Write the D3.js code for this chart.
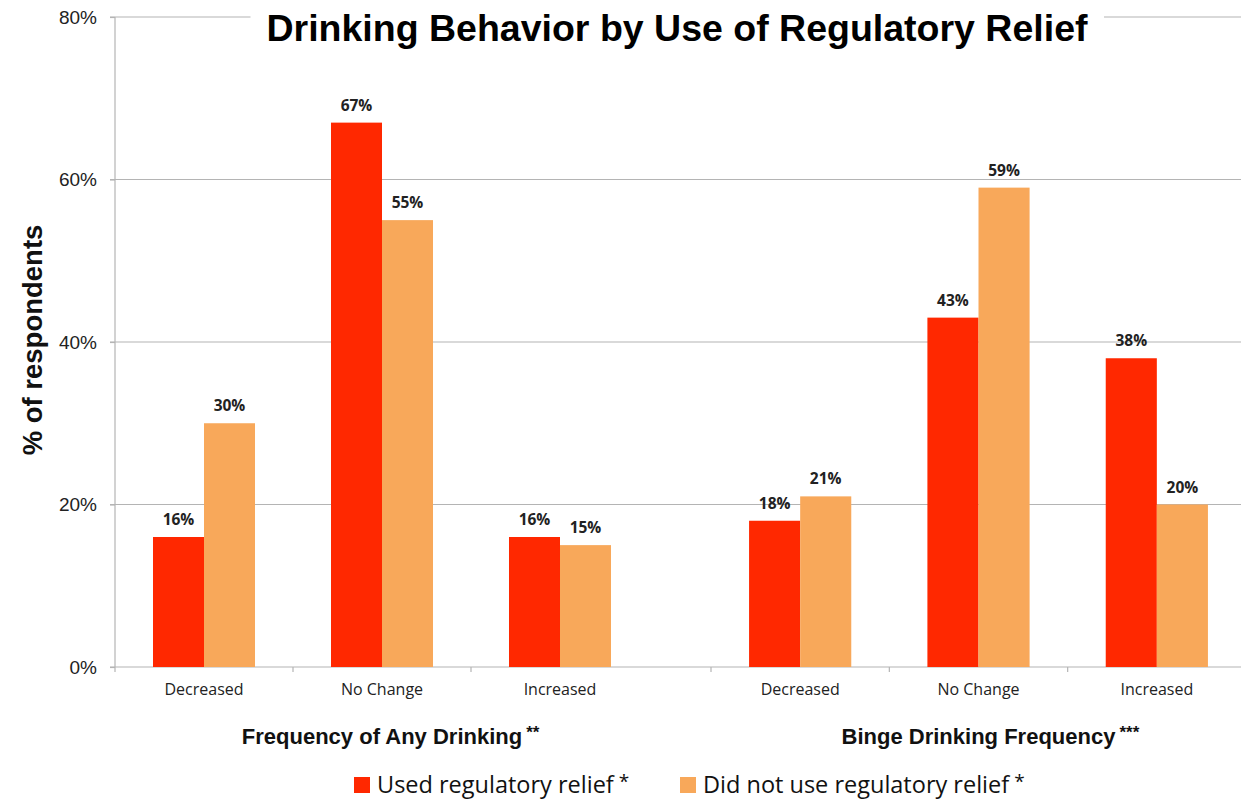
<!DOCTYPE html>
<html><head><meta charset="utf-8">
<script src="https://cdn.jsdelivr.net/npm/d3@7"></script>
<style>
body{margin:0;background:#fff;}
svg{display:block;}
</style></head>
<body>
<svg id="chart" width="1241" height="803"></svg>
<script>
const categories = ["Decreased", "No Change", "Increased"];
const groups = ["Frequency of Any Drinking", "Binge Drinking Frequency"];
const groupStars = ["**", "***"];
const seriesNames = ["Used regulatory relief", "Did not use regulatory relief"];
const usedRelief = [[16, 67, 16], [18, 43, 38]];
const notUsedRelief = [[30, 55, 15], [21, 59, 20]];
const yTicks = [0, 20, 40, 60, 80];
const colors = ["#FF2800", "#F8A85A"];

const svg = d3.select("#chart");
const W = 1241, H = 803;
const y = d3.scaleLinear().domain([0, 80]).range([667, 17]);

const groupX = d3.scaleOrdinal().domain(groups).range([[115, 649], [711, 1246]]);

// gridlines
svg.append("g").selectAll("line").data(yTicks.filter(d => d > 0)).join("line")
  .attr("x1", 110).attr("x2", W).attr("y1", d => y(d)).attr("y2", d => y(d))
  .attr("stroke", "#b4b4b4").attr("stroke-width", 1.2);

// title background + title
const titleBg = svg.append("rect").attr("fill", "#fff");
const title = svg.append("text").attr("x", 677).attr("y", 41).attr("text-anchor", "middle")
  .attr("font-family", "Liberation Sans, Arial, sans-serif").attr("font-weight", "bold")
  .attr("font-size", 37.5).attr("fill", "#000").text("Drinking Behavior by Use of Regulatory Relief");
const bb = title.node().getBBox();
titleBg.attr("x", bb.x - 16).attr("y", 0).attr("width", bb.width + 32).attr("height", 50);

// y axis
const yAxis = d3.axisLeft(y).tickValues(yTicks).tickFormat(d => d + "%").tickSize(5).tickPadding(13);
const yg = svg.append("g").attr("transform", "translate(115,0)").call(yAxis);
yg.select(".domain").attr("stroke", "#b4b4b4").attr("stroke-width", 1.2).attr("d", "M0,17V667");
yg.selectAll(".tick line").attr("stroke", "#b4b4b4").attr("stroke-width", 1.2);
yg.selectAll(".tick text").attr("font-family", "Liberation Sans, Arial, sans-serif")
  .attr("font-size", 19).attr("fill", "#222");

// baseline
svg.append("line").attr("x1", 110).attr("x2", W).attr("y1", y(0)).attr("y2", y(0))
  .attr("stroke", "#b4b4b4").attr("stroke-width", 1.2);

groups.forEach((g, gi) => {
  const x = d3.scaleBand().domain(categories).range(groupX(g)).paddingInner(0).paddingOuter(0);
  const xs = d3.scaleBand().domain([0, 1]).range([0, x.bandwidth()]).paddingInner(0).paddingOuter(0.745);
  const xa = d3.axisBottom(x).tickSize(0).tickPadding(17);
  const ga = svg.append("g").attr("transform", `translate(0,${y(0)})`).call(xa);
  ga.select(".domain").remove();
  ga.selectAll(".tick text").attr("font-family", "Open Sans, Noto Sans, sans-serif")
    .attr("font-size", 16).attr("fill", "#222");
  const bounds = categories.map(c => x(c));
  svg.append("g").selectAll("line").data(bounds).join("line")
    .attr("x1", d => d).attr("x2", d => d).attr("y1", y(0)).attr("y2", y(0) + 5)
    .attr("stroke", "#b4b4b4").attr("stroke-width", 1.2);

  const rows = categories.map((c, i) => ({c, vals: [usedRelief[gi][i], notUsedRelief[gi][i]]}));
  const cg = svg.append("g").selectAll("g").data(rows).join("g")
    .attr("transform", d => `translate(${x(d.c)},0)`);
  cg.selectAll("rect").data(d => d.vals).join("rect")
    .attr("x", (d, i) => xs(i)).attr("width", xs.bandwidth())
    .attr("y", d => y(d)).attr("height", d => y(0) - y(d))
    .attr("fill", (d, i) => colors[i]);
  cg.selectAll("text").data(d => d.vals).join("text")
    .attr("x", (d, i) => xs(i) + xs.bandwidth() / 2).attr("y", d => y(d) - 12)
    .attr("text-anchor", "middle").attr("font-family", "Open Sans, Noto Sans, sans-serif")
    .attr("font-weight", "bold").attr("font-size", 15.5).attr("fill", "#222")
    .text(d => d + "%");

  const cx = x("No Change") + x.bandwidth() / 2;
  const gl = svg.append("text").attr("y", 744)
    .attr("font-family", "Liberation Sans, Arial, sans-serif")
    .attr("font-weight", "bold").attr("font-size", 22).attr("fill", "#111");
  const main = gl.append("tspan").text(g);
  gl.append("tspan").attr("dx", 4).attr("dy", -6).attr("font-size", 17).text(groupStars[gi]);
  gl.attr("x", cx - main.node().getComputedTextLength() / 2);
});

// y axis title
svg.append("text").attr("transform", "translate(42,340) rotate(-90)").attr("text-anchor", "middle")
  .attr("font-family", "Liberation Sans, Arial, sans-serif").attr("font-weight", "bold")
  .attr("font-size", 27.5).attr("fill", "#111").text("% of respondents");

// legend
const legX = [354, 680];
const lg = svg.append("g").selectAll("g").data(seriesNames).join("g")
  .attr("transform", (d, i) => `translate(${legX[i]},777)`);
lg.append("rect").attr("x", 0).attr("y", 0).attr("width", 16).attr("height", 16)
  .attr("fill", (d, i) => colors[i]);
const lt = lg.append("text").attr("x", 23).attr("y", 16)
  .attr("font-family", "Open Sans, Noto Sans, sans-serif").attr("font-size", 23.5).attr("fill", "#111");
lt.append("tspan").text(d => d);
lt.append("tspan").attr("dx", 5).attr("dy", -5).attr("font-size", 19).text("*");
</script>
</body></html>
